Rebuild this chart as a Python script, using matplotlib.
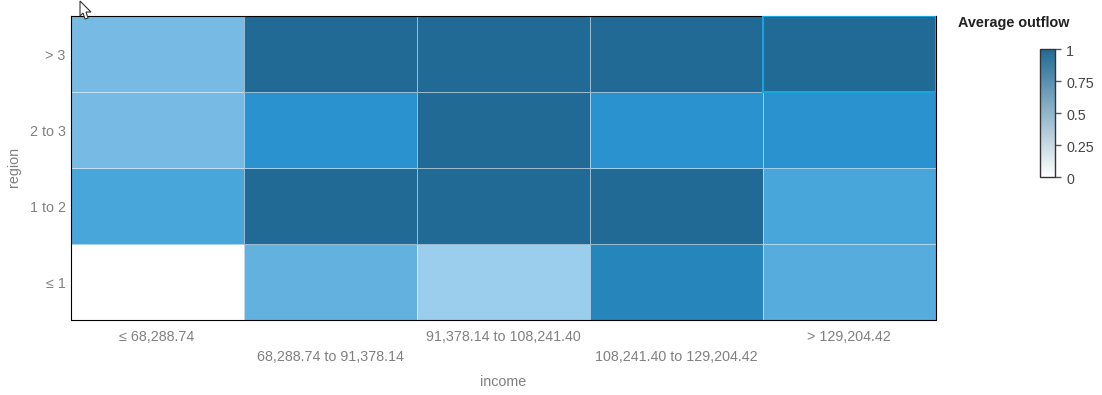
#Heatmap of average outflow by income and region
import numpy as np
import matplotlib
matplotlib.use('Agg')
import matplotlib.pyplot as plt
from matplotlib.colors import LinearSegmentedColormap
from matplotlib.patches import Polygon, Rectangle

income = ['≤ 68,288.74', '68,288.74 to 91,378.14', '91,378.14 to 108,241.40',
          '108,241.40 to 129,204.42', '> 129,204.42']
region = ['≤ 1', '1 to 2', '2 to 3', '> 3']
#rows go bottom to top
outflow = [[0.00, 0.50, 0.33, 0.85, 0.55],
           [0.60, 1.00, 1.00, 1.00, 0.60],
           [0.42, 0.80, 1.00, 0.80, 0.80],
           [0.42, 1.00, 1.00, 1.00, 1.00]]
legend_ticks = [0, 0.25, 0.5, 0.75, 1]
legend_labels = ['0', '0.25', '0.5', '0.75', '1']

plt.rcParams['font.family'] = ['Liberation Sans', 'DejaVu Sans']

W, H = 1102, 395
fig = plt.figure(figsize=(W/100, H/100), dpi=100)
ax = fig.add_axes([70.5/W, 1-319.5/H, 865/W, 304/H])

#cells use a brighter scale than the legend
cell_cmap = LinearSegmentedColormap.from_list('cells', [
    (0.00, '#ffffff'), (0.33, '#9bceec'), (0.42, '#77bbe5'), (0.50, '#62b1de'),
    (0.60, '#49a6db'), (0.80, '#2a93cf'), (0.85, '#2686bc'), (1.00, '#216a95')])
legend_cmap = LinearSegmentedColormap.from_list('legend', ['#ffffff', '#216a95'])

mesh = ax.pcolormesh(np.array(outflow), cmap=cell_cmap, vmin=0, vmax=1,
                     edgecolors=(1, 1, 1, 0.55), linewidth=0.72)
#highlighted cell
ax.add_patch(Rectangle((4, 3), 1, 1, fill=False, edgecolor='#18a5de', linewidth=1.5, zorder=3))

ax.set_xticks(np.arange(5)+0.5)
ax.set_xticklabels(income, fontsize=10.3, color='#808080')
ax.set_yticks(np.arange(4)+0.49)
ax.set_yticklabels(region, fontsize=10.3, color='#808080')
ax.tick_params(length=0)
ax.tick_params(axis='y', pad=3.5)
for i, tick in enumerate(ax.xaxis.get_major_ticks()):
    tick.set_pad(7.7 if i % 2 == 0 else 22.2)
for s in ax.spines.values():
    s.set_linewidth(0.8)
    s.set_color('black')

fig.text(503/W, 1-381.5/H, 'income', fontsize=10.3, color='#808080', ha='center', va='center')
fig.text(14/W, 1-167/H, 'region', fontsize=10.3, color='#808080', ha='center', va='center', rotation=90)

fig.text(958/W, 1-23/H, 'Average outflow', fontsize=10.4, fontweight='bold', color='#222222', ha='left', va='center')

cax = fig.add_axes([1040/W, 1-177/H, 15/W, 128/H])
sm = plt.cm.ScalarMappable(cmap=legend_cmap, norm=plt.Normalize(0, 1))
cb = fig.colorbar(sm, cax=cax)
cb.set_ticks(legend_ticks)
cb.set_ticklabels(['']*len(legend_ticks))
cb.ax.tick_params(length=4, width=1, color='#555555')
#labels sit a little under their ticks
for v, lab in zip(legend_ticks, legend_labels):
    cb.ax.annotate(lab, (1, v), xytext=(8, -2), textcoords='offset points', xycoords=('axes fraction', 'data'),
                   fontsize=10.3, color='#444444', ha='left', va='center')
cb.outline.set_edgecolor('#333333')
cb.outline.set_linewidth(1)

#mouse pointer left in the screenshot
px = [80, 80, 83, 85, 88, 86, 91]
py = [1, 16, 13, 19, 18, 12, 12]
fig.add_artist(Polygon([(x/W, 1-y/H) for x, y in zip(px, py)], closed=True, facecolor='white',
                       edgecolor='#333333', linewidth=0.8, transform=fig.transFigure, zorder=5))

fig.savefig('out.png', dpi=100)
